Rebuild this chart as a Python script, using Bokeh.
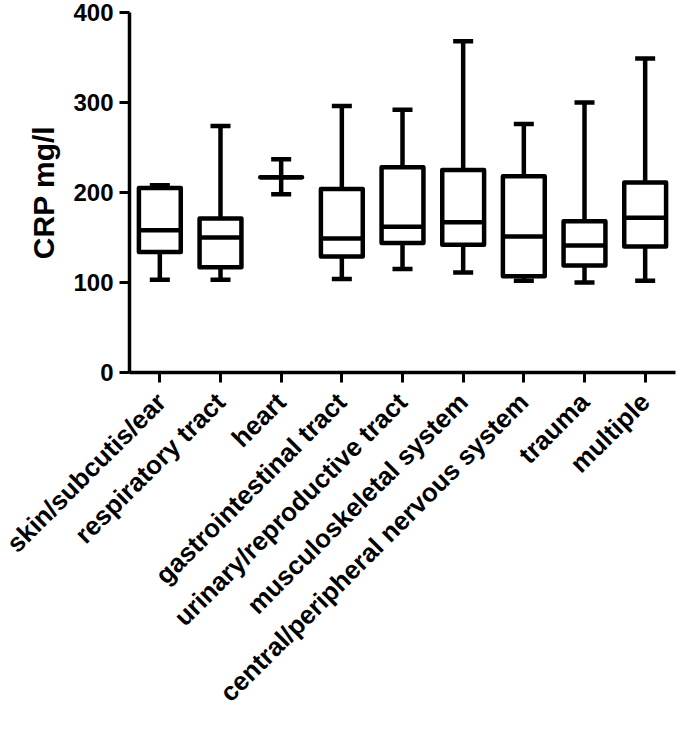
import math
from bokeh.plotting import figure
from bokeh.models import FactorRange, Range1d, FixedTicker
from bokeh.embed import file_html
from bokeh.resources import INLINE

categories = ["skin/subcutis/ear", "respiratory tract", "heart",
              "gastrointestinal tract", "urinary/reproductive tract",
              "musculoskeletal system", "central/peripheral nervous system",
              "trauma", "multiple"]
lower = [103, 103, 198, 104, 115, 111, 102, 100, 102]
q1 = [134, 117, 217, 129, 144, 142, 107, 119, 140]
median = [158, 150, 217, 149, 162, 167, 151, 141, 172]
q3 = [205, 171, 217, 204, 228, 225, 218, 168, 211]
upper = [208, 274, 237, 296, 292, 368, 276, 300, 349]
y_ticks = [0, 100, 200, 300, 400]

FONT = "Liberation Sans"
LW = 4.5
BOX_W = 0.69
CAP_W = 0.33

p = figure(x_range=FactorRange(factors=categories, range_padding=0),
           y_range=Range1d(0, 400),
           width=677, height=721, output_backend="svg", toolbar_location=None,
           min_border_left=129, min_border_right=2, min_border_top=12,
           min_border_bottom=340)
p.outline_line_color = None
p.xgrid.grid_line_color = None
p.ygrid.grid_line_color = None
p.background_fill_color = "white"

# whiskers
p.segment(x0=categories, y0=upper, x1=categories, y1=q3, line_color="black", line_width=LW)
p.segment(x0=categories, y0=lower, x1=categories, y1=q1, line_color="black", line_width=LW)
# caps
caps_x0 = [(c, -CAP_W / 2) for c in categories]
caps_x1 = [(c, CAP_W / 2) for c in categories]
p.segment(x0=caps_x0, y0=upper, x1=caps_x1, y1=upper, line_color="black", line_width=LW)
p.segment(x0=caps_x0, y0=lower, x1=caps_x1, y1=lower, line_color="black", line_width=LW)
# boxes
p.vbar(x=categories, width=BOX_W, bottom=q1, top=q3, fill_color="white",
       line_color="black", line_width=LW, line_join="round")
# medians
med_x0 = [(c, -BOX_W / 2) for c in categories]
med_x1 = [(c, BOX_W / 2) for c in categories]
p.segment(x0=med_x0, y0=median, x1=med_x1, y1=median, line_color="black", line_width=LW)

for ax in (p.xaxis[0], p.yaxis[0]):
    ax.axis_line_width = 3.5
    ax.axis_line_color = "black"
    ax.major_tick_line_width = 3
    ax.major_tick_line_color = "black"
    ax.major_tick_in = 0
    ax.major_tick_out = 10
    ax.minor_tick_line_color = None
    ax.major_label_text_font = FONT
    ax.major_label_text_font_style = "bold"
    ax.major_label_text_color = "black"

p.yaxis.ticker = FixedTicker(ticks=y_ticks)
p.yaxis.major_label_text_font_size = "24px"
p.yaxis.major_label_standoff = 6
p.yaxis.axis_label = "CRP mg/l"
p.yaxis.axis_label_text_font = FONT
p.yaxis.axis_label_text_font_style = "bold"
p.yaxis.axis_label_text_font_size = "30px"
p.yaxis.axis_label_text_color = "black"
p.yaxis.axis_label_standoff = 10

p.xaxis.major_label_text_font_size = "26px"
p.xaxis.major_label_orientation = math.pi / 4
p.xaxis.major_label_standoff = 15

open("out.html", "w").write(file_html(p, INLINE))
